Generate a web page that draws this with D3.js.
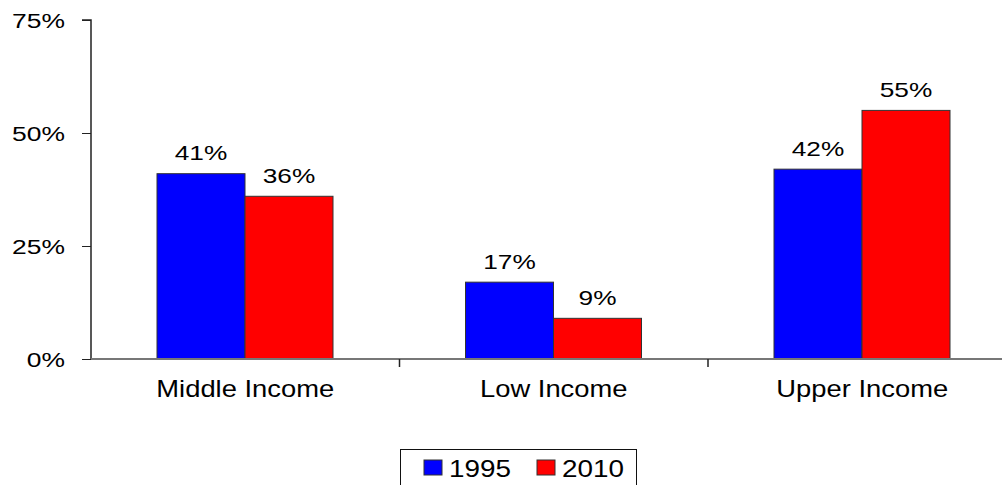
<!DOCTYPE html>
<html>
<head>
<meta charset="utf-8">
<script src="https://cdn.jsdelivr.net/npm/d3@7"></script>
<style>
  html, body { margin: 0; padding: 0; background: #fff; }
  svg { display: block; font-family: "Liberation Sans", Arial, sans-serif; }
</style>
</head>
<body>
<svg id="chart" width="1002" height="485"></svg>
<script>
// data
var categories = ['Middle Income', 'Low Income', 'Upper Income'];
var seriesNames = ['1995', '2010'];
var values1995 = [41, 17, 42];
var values2010 = [36, 9, 55];
var yTicks = [0, 25, 50, 75];
var colors = ['#0000ff', '#ff0000'];

(function () {

    var svg = d3.select('#chart');

    var x0 = d3.scaleBand()
        .domain(categories)
        .range([91, 91 + 3 * 308.5]);

    var x1 = d3.scaleBand()
        .domain(seriesNames)
        .range([66, 66 + 176]);

    var y = d3.scaleLinear()
        .domain([0, 75])
        .range([359, 20]);

    var rows = categories.map(function (c, i) {
        return [
            { cat: c, s: '1995', v: values1995[i] },
            { cat: c, s: '2010', v: values2010[i] }
        ];
    });

    // the source picture is stretched sideways, so the text is too
    function stretchedText(sel, tx, ty, k) {
        return sel.attr('transform', function (d, i) {
            return 'translate(' + tx(d, i) + ',' + ty(d, i) + ') scale(' + k + ',1)';
        });
    }

    // bars
    var groups = svg.selectAll('.cat')
        .data(rows).enter()
        .append('g')
        .attr('class', 'cat')
        .attr('transform', function (d) {
            return 'translate(' + x0(d[0].cat) + ',0)';
        });

    groups.selectAll('rect')
        .data(function (d) { return d; })
        .enter()
        .append('rect')
        .attr('x', function (d) { return x1(d.s); })
        .attr('width', x1.bandwidth())
        .attr('y', function (d) { return y(d.v); })
        .attr('height', function (d) { return y(0) - y(d.v); })
        .attr('fill', function (d) { return colors[seriesNames.indexOf(d.s)]; })
        .attr('stroke', '#333')
        .attr('stroke-width', 1);

    stretchedText(groups.selectAll('text.val')
        .data(function (d) { return d; })
        .enter()
        .append('text')
        .attr('class', 'val')
        .attr('text-anchor', 'middle')
        .attr('font-size', 21)
        .attr('fill', '#000')
        .text(function (d) { return d.v + '%'; }),
        function (d) { return x1(d.s) + x1.bandwidth() / 2; },
        function (d) { return y(d.v) - 13.5; }, 1.25);

    // y axis
    var yAxis = svg.append('g')
        .attr('transform', 'translate(91,0)')
        .call(d3.axisLeft(y).tickValues(yTicks).tickSize(9).tickFormat(''));
    yAxis.select('.domain').attr('stroke', '#222').attr('stroke-width', 1.5)
        .attr('d', 'M-9,' + y(75) + 'H0V' + y(0));
    yAxis.selectAll('.tick line').attr('stroke', '#222');

    stretchedText(svg.selectAll('text.ytick')
        .data(yTicks).enter()
        .append('text')
        .attr('class', 'ytick')
        .attr('text-anchor', 'end')
        .attr('font-size', 21)
        .attr('fill', '#000')
        .text(function (d) { return d + '%'; }),
        function () { return 65; },
        function (d) { return y(d) + 7.5; }, 1.26);

    // x axis
    var xAxis = svg.append('g')
        .attr('transform', 'translate(0,' + y(0) + ')')
        .call(d3.axisBottom(x0).tickSize(0).tickFormat(''));
    xAxis.select('.domain').attr('stroke', '#777').attr('stroke-width', 2)
        .attr('d', 'M91,0H1020');
    xAxis.selectAll('.tick').remove();

    svg.append('g')
        .selectAll('line')
        .data(categories.slice(1))
        .enter()
        .append('line')
        .attr('x1', function (d) { return x0(d); })
        .attr('x2', function (d) { return x0(d); })
        .attr('y1', y(0))
        .attr('y2', y(0) + 8)
        .attr('stroke', '#222')
        .attr('stroke-width', 1.5);

    stretchedText(svg.selectAll('text.cat')
        .data(categories).enter()
        .append('text')
        .attr('class', 'cat')
        .attr('text-anchor', 'middle')
        .attr('font-size', 23)
        .attr('fill', '#000')
        .text(function (d) { return d; }),
        function (d) { return x0(d) + x0.bandwidth() / 2; },
        function () { return 397; }, 1.19);

    // legend
    var legend = svg.append('g');
    legend.append('rect')
        .attr('x', 400.5).attr('y', 449.5)
        .attr('width', 236).attr('height', 40)
        .attr('fill', '#fff')
        .attr('stroke', '#111')
        .attr('stroke-width', 1);

    var items = legend.selectAll('g.item')
        .data(seriesNames).enter()
        .append('g')
        .attr('class', 'item')
        .attr('transform', function (d, i) {
            return 'translate(' + (424 + i * 113) + ',0)';
        });

    items.append('rect')
        .attr('x', 0).attr('y', 460)
        .attr('width', 18).attr('height', 15)
        .attr('fill', function (d, i) { return colors[i]; })
        .attr('stroke', '#333');

    items.append('text')
        .attr('transform', 'translate(25,477) scale(1.16,1)')
        .attr('font-size', 24)
        .attr('fill', '#000')
        .text(function (d) { return d; });

})();
</script>
</body>
</html>
